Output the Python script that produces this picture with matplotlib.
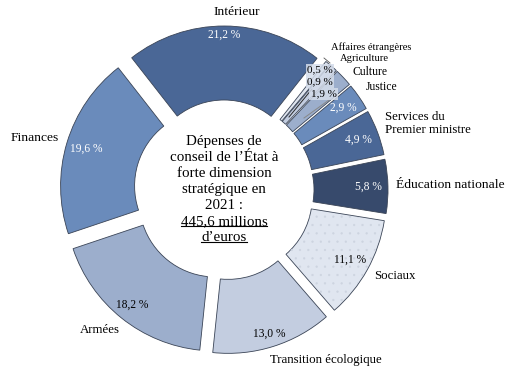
import numpy as np
import matplotlib
matplotlib.use("Agg")
import matplotlib.pyplot as plt
from matplotlib.patches import Wedge

# ---- data ----
categories = ["Intérieur", "Affaires étrangères", "Agriculture", "Culture", "Justice",
              "Services du\nPremier ministre", "Éducation nationale", "Sociaux",
              "Transition écologique", "Armées", "Finances"]
values = [21.2, 0.5, 0.9, 1.9, 2.9, 4.9, 5.8, 11.1, 13.0, 18.2, 19.6]
pct_labels = ["21,2 %", "0,5 %", "0,9 %", "1,9 %", "2,9 %", "4,9 %", "5,8 %",
              "11,1 %", "13,0 %", "18,2 %", "19,6 %"]
center_lines = ["Dépenses de", "conseil de l\u2019État à", "forte dimension",
                "stratégique en", "2021 :", "445,6 millions", "d\u2019euros"]

# ---- style ----
colors = ["#4a6796", "#e0e6f0", "#c3cde0", "#9caecc", "#6a8bbb", "#4a6796",
          "#374a6c", "#e0e6f0", "#c3cde0", "#9caecc", "#6a8bbb"]
white_text = [True, False, False, False, True, True, True, False, False, False, True]

W, H = 512, 377
CX, CY = 224, 190          # pixel centre of the donut
S = 150.0                  # pixels per unit radius
EXPL = 14 / S
WIDTH = 74 / S

plt.rcParams['font.family'] = ['Liberation Serif', 'DejaVu Serif']
plt.rcParams['hatch.linewidth'] = 0.4

fig = plt.figure(figsize=(W / 100, H / 100), dpi=100)
ax = fig.add_axes([0, 0, 1, 1])


def u(px, py):
    return (px - CX) / S, (CY - py) / S


wedges, _ = ax.pie(values, colors=colors, startangle=128, counterclock=False,
                   radius=1.0, explode=[EXPL] * len(values),
                   wedgeprops=dict(width=WIDTH, edgecolor="#3a4456", linewidth=0.6))
ax.set_xlim(-CX / S, (W - CX) / S)
ax.set_ylim(-(H - CY) / S, CY / S)
ax.set_aspect('equal')
ax.axis('off')

# subtle dotted texture on Sociaux
ws = wedges[7]
dots = Wedge(ws.center, ws.r * 0.995, ws.theta1 + 0.3, ws.theta2 - 0.3, width=ws.width * 0.99,
             facecolor='none', edgecolor='#cdd4e0', linewidth=0, hatch='..')
ax.add_patch(dots)

# angles
fr = np.array(values) / np.sum(values) * 360.0
ends = 128 - np.cumsum(fr)
starts = ends + fr
mids = (starts + ends) / 2.0

# percent labels (inside end)
hw, hh = 17 / S, 6 / S
Rin = (150 - 2) / S
for i, (lab, a) in enumerate(zip(pct_labels, mids)):
    if values[i] < 2:
        continue
    c, s_ = np.cos(np.radians(a)), np.sin(np.radians(a))
    B = 2 * (abs(c) * hw + abs(s_) * hh)
    Cc = hw ** 2 + hh ** 2 - Rin ** 2
    rho = (-B + np.sqrt(B * B - 4 * Cc)) / 2
    rho += EXPL
    ax.text(rho * c, rho * s_, lab, ha='center', va='center', fontsize=8.3,
            color='white' if white_text[i] else 'black')

# small percent labels with boxes
small_pos = {1: (320, 70), 2: (320, 82), 3: (323.5, 94)}
for i, (px, py) in small_pos.items():
    x, y = u(px, py)
    ax.text(x, y, pct_labels[i], ha='center', va='center', fontsize=8.0, color='black',
            bbox=dict(boxstyle='square,pad=0.12', facecolor='#d4dcea', edgecolor='none', alpha=0.85),
            zorder=5)
# leader lines into thin wedges
for (p0, p1, col) in [((312, 89), (289, 117), '#2a2a2a'), ((329, 100), (304, 118), '#888888')]:
    x0, y0 = u(*p0)
    x1, y1 = u(*p1)
    ax.plot([x0, x1], [y0, y1], color=col, linewidth=0.7, zorder=4)
x0, y0 = u(324, 58)
x1, y1 = u(330, 63)
ax.plot([x0, x1], [y0, y1], color='#555555', linewidth=0.6)

# category labels
lab_off = [(12, 0), (-2, -10), (1, -3), (3, 0), (0, -5), (0, -6), (0, -1),
           (0, 2), (-6, 0), (3, 6), (0, -3)]
lab_size = [9.7, 7.6, 7.6, 8.4, 8.4, 9.3, 9.7, 9.3, 9.3, 9.3, 9.7]
RL = 172
for i, (lab, a) in enumerate(zip(categories, mids)):
    c, s_ = np.cos(np.radians(a)), np.sin(np.radians(a))
    px = CX + RL * c + lab_off[i][0]
    py = CY - RL * s_ + lab_off[i][1]
    if c > 0.25:
        ha = 'left'
    elif c < -0.25:
        ha = 'right'
    else:
        ha = 'center'
    if s_ > 0.8:
        va = 'bottom'
    elif s_ < -0.8:
        va = 'top'
    else:
        va = 'center'
    if ha != 'center':
        va = 'center'
        if s_ < -0.9:
            va = 'top'
    x, y = u(px, py)
    ax.text(x, y, lab, ha=ha, va=va, fontsize=lab_size[i], color='black',
            linespacing=1.1)

# centre text
line_y = [142, 158, 174, 190, 206, 222, 238]
fig.canvas.draw()
renderer = fig.canvas.get_renderer()
for k, (t, py) in enumerate(zip(center_lines, line_y)):
    x, y = u(224, py)
    txt = ax.text(x, y, t, ha='center', va='center', fontsize=10.8, color='black')
    if k >= 5:
        bb = txt.get_window_extent(renderer=renderer)
        inv = ax.transData.inverted()
        (xa, ya), (xb, yb) = inv.transform([(bb.x0, bb.y0), (bb.x1, bb.y0)])
        ya = ya + 2.5 / S
        ax.plot([xa, xb], [ya, ya], color='black', linewidth=0.8)

fig.savefig("out.png", dpi=100)
